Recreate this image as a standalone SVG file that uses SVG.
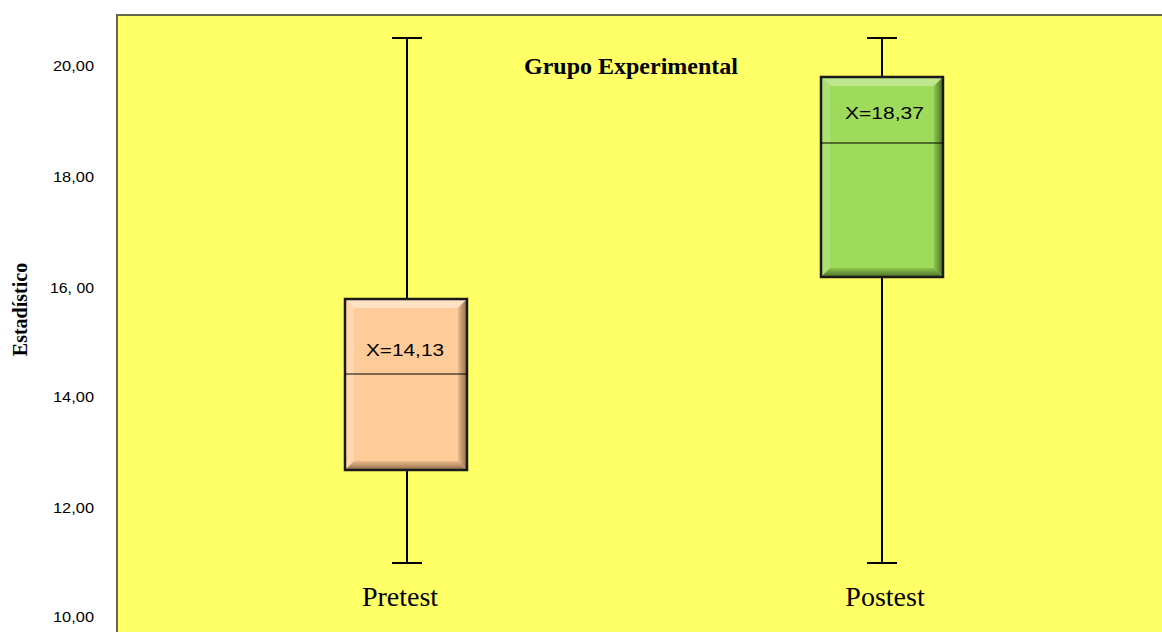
<svg xmlns="http://www.w3.org/2000/svg" width="1162" height="632" viewBox="0 0 1162 632">
<style>
.tick{font-family:"Liberation Sans",Arial,sans-serif;font-size:14px;fill:#000;text-anchor:end}
.serif{font-family:"Liberation Serif","Times New Roman",serif;fill:#000}
.mean{font-family:"Liberation Sans",Arial,sans-serif;font-size:17px;fill:#000}
.wh{stroke:#000;stroke-width:2;fill:none}
.med{stroke:#000;stroke-width:1.2}
.frame{fill:none;stroke:#1a1a1a;stroke-width:2.5}
</style>
<defs>
<linearGradient id="oR" x1="0" y1="0" x2="1" y2="0"><stop offset="0" stop-color="#EBBA8A"/><stop offset="1" stop-color="#8E6B4A"/></linearGradient>
<linearGradient id="oB" x1="0" y1="0" x2="0" y2="1"><stop offset="0" stop-color="#EBBA8A"/><stop offset="1" stop-color="#8E6B4A"/></linearGradient>
<linearGradient id="gR" x1="0" y1="0" x2="1" y2="0"><stop offset="0" stop-color="#8CC64C"/><stop offset="1" stop-color="#4B6E2A"/></linearGradient>
<linearGradient id="gB" x1="0" y1="0" x2="0" y2="1"><stop offset="0" stop-color="#8CC64C"/><stop offset="1" stop-color="#4B6E2A"/></linearGradient>
</defs>
<rect x="0" y="0" width="1162" height="632" fill="#FFFFFF"/>
<g id="plot-area">
<rect x="117" y="15" width="1047" height="620" fill="#FFFF66" stroke="#66664A" stroke-width="2"/>
</g>
<g id="axis">
<text class="tick" x="94" y="71" textLength="41" lengthAdjust="spacingAndGlyphs">20,00</text>
<text class="tick" x="94" y="182" textLength="41" lengthAdjust="spacingAndGlyphs">18,00</text>
<text class="tick" x="94" y="293" textLength="44" lengthAdjust="spacingAndGlyphs">16, 00</text>
<text class="tick" x="94" y="402" textLength="41" lengthAdjust="spacingAndGlyphs">14,00</text>
<text class="tick" x="94" y="513" textLength="41" lengthAdjust="spacingAndGlyphs">12,00</text>
<text class="tick" x="94" y="622" textLength="41" lengthAdjust="spacingAndGlyphs">10,00</text>
<text class="serif" x="0" y="0" transform="translate(27,309.5) rotate(-90)" text-anchor="middle" font-size="20" font-weight="bold">Estadístico</text>
</g>
<g id="title">
<text class="serif" x="631" y="74" text-anchor="middle" font-size="24" font-weight="bold">Grupo Experimental</text>
</g>
<g id="connectors">
<line class="wh" x1="407" y1="38" x2="407" y2="299"/>
<line class="wh" x1="407" y1="470" x2="407" y2="563"/>
<line class="wh" x1="392" y1="38" x2="422" y2="38"/>
<line class="wh" x1="392" y1="563" x2="422" y2="563"/>
<line class="wh" x1="882" y1="38" x2="882" y2="77"/>
<line class="wh" x1="882" y1="277" x2="882" y2="563"/>
<line class="wh" x1="867" y1="38" x2="897" y2="38"/>
<line class="wh" x1="867" y1="563" x2="897" y2="563"/>
</g>
<g id="pretest">
<rect x="345" y="299" width="122" height="171" fill="#FFCC99"/>
<polygon points="345,299 467,299 458,308 354,308" fill="#FFE2C4"/>
<polygon points="345,299 354,308 354,461 345,470" fill="#FFD8B0"/>
<polygon points="467,299 467,470 458,461 458,308" fill="url(#oR)"/>
<polygon points="345,470 467,470 458,461 354,461" fill="url(#oB)"/>
<rect class="frame" x="345" y="299" width="122" height="171"/>
<line class="med" x1="345" y1="374" x2="467" y2="374"/>
<text class="mean" x="366" y="356" textLength="78" lengthAdjust="spacingAndGlyphs">X=14,13</text>
<text class="serif" x="400" y="606" text-anchor="middle" font-size="28">Pretest</text>
</g>
<g id="postest">
<rect x="821" y="77" width="122" height="200" fill="#9FDB5A"/>
<polygon points="821,77 943,77 934,86 830,86" fill="#BCE78D"/>
<polygon points="821,77 830,86 830,268 821,277" fill="#ADE072"/>
<polygon points="943,77 943,277 934,268 934,86" fill="url(#gR)"/>
<polygon points="821,277 943,277 934,268 830,268" fill="url(#gB)"/>
<rect class="frame" x="821" y="77" width="122" height="200"/>
<line class="med" x1="821" y1="143" x2="943" y2="143"/>
<text class="mean" x="845" y="119" textLength="79" lengthAdjust="spacingAndGlyphs">X=18,37</text>
<text class="serif" x="885" y="606" text-anchor="middle" font-size="28">Postest</text>
</g>
</svg>
